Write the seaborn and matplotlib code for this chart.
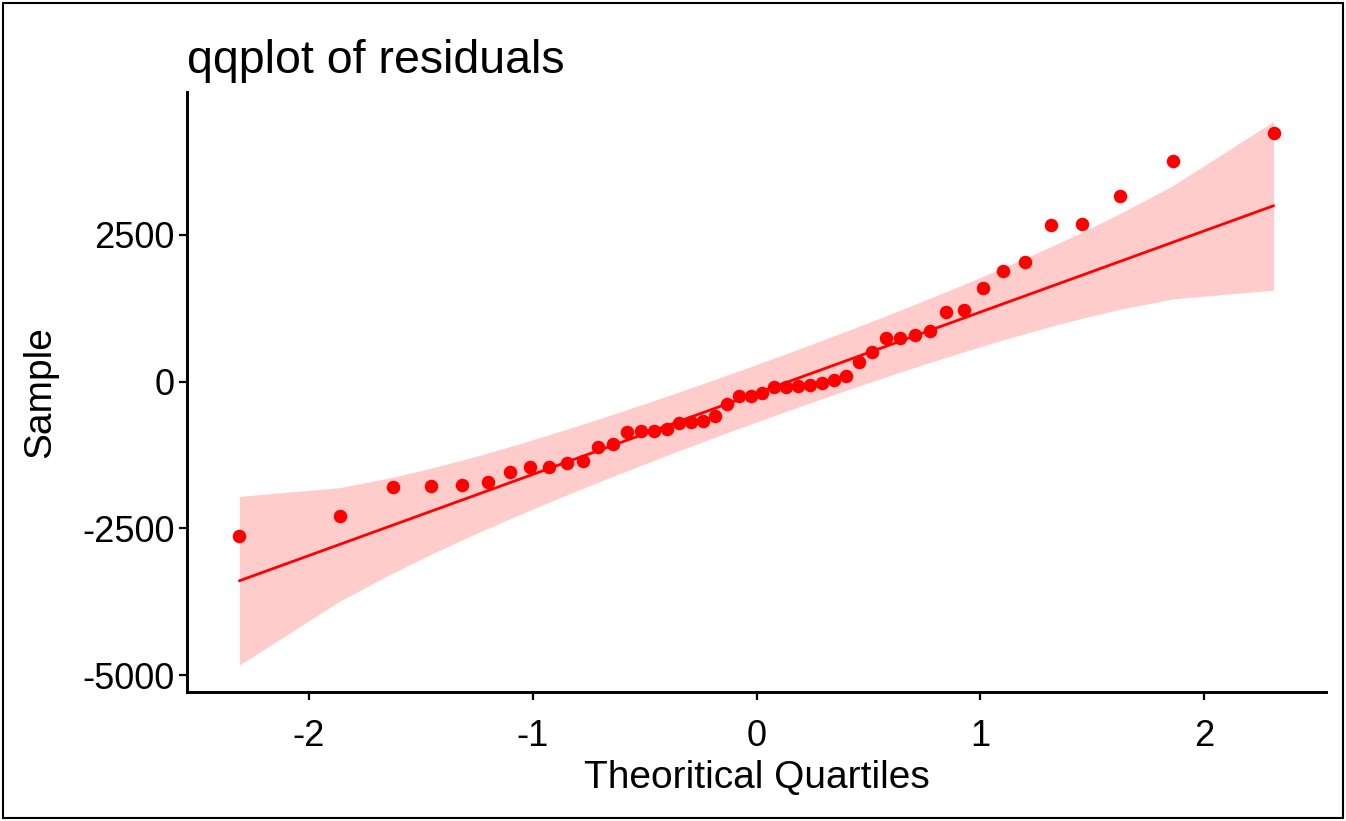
import math
import numpy as np
import pandas as pd
import matplotlib
matplotlib.use("Agg")
import matplotlib.pyplot as plt
import seaborn as sns
from matplotlib.patches import Rectangle

# ---- data ----
theoretical = [-2.311, -1.862, -1.625, -1.454, -1.318, -1.202, -1.101, -1.010,
               -0.926, -0.849, -0.776, -0.708, -0.642, -0.579, -0.518, -0.459,
               -0.402, -0.346, -0.291, -0.237, -0.184, -0.131, -0.078, -0.026,
               0.026, 0.078, 0.131, 0.184, 0.237, 0.291, 0.346, 0.402,
               0.459, 0.518, 0.579, 0.642, 0.708, 0.776, 0.849, 0.926,
               1.010, 1.101, 1.202, 1.318, 1.454, 1.625, 1.862, 2.311]
sample = [-2629, -2289, -1790, -1766, -1770, -1705, -1535, -1460,
          -1455, -1387, -1353, -1115, -1069, -854, -842, -840,
          -808, -701, -684, -672, -582, -383, -247, -250,
          -201, -99, -88, -77, -60, -20, 26, 99,
          337, 507, 735, 740, 791, 868, 1183, 1217,
          1596, 1881, 2042, 2660, 2689, 3162, 3752, 4224]
line_intercept = -200
line_slope = 1381
x_ticks = [-2, -1, 0, 1, 2]
y_ticks = [-5000, -2500, 0, 2500]

title = "qqplot of residuals"
x_label = "Theoritical Quartiles"
y_label = "Sample"

# ---- derived (reference line and pointwise normal 95% band) ----
df = pd.DataFrame({"theoretical": theoretical, "sample": sorted(sample)})
n = len(df)
z = df["theoretical"].to_numpy()
p = np.array([0.5 * (1 + math.erf(v / math.sqrt(2))) for v in z])
dens = np.exp(-z ** 2 / 2) / math.sqrt(2 * math.pi)
df["fit"] = line_intercept + line_slope * z
se = line_slope / dens * np.sqrt(p * (1 - p) / n)
df["lower"] = df["fit"] - 1.959964 * se
df["upper"] = df["fit"] + 1.959964 * se

# ---- style ----
sns.set_theme(style="white")
plt.rcParams["font.family"] = ["Liberation Sans", "DejaVu Sans"]
plt.rcParams["axes.unicode_minus"] = False

W, H = 1346, 821
fig = plt.figure(figsize=(W / 100, H / 100), dpi=100)
fig.patch.set_facecolor("white")
ax_l, ax_r, ax_t, ax_b = 187, 1326, 92, 692
ax = fig.add_axes([ax_l / W, 1 - ax_b / H, (ax_r - ax_l) / W, (ax_b - ax_t) / H])

ax.fill_between(df["theoretical"], df["lower"], df["upper"],
                color="#FF0000", alpha=0.2, linewidth=0, zorder=1)
sns.lineplot(data=df, x="theoretical", y="fit", color="#FF0000",
             linewidth=2.0, ax=ax, zorder=2)
sns.scatterplot(data=df, x="theoretical", y="sample", color="#FF0000",
                s=95, linewidth=0, ax=ax, zorder=3)

ax.set_xlim(-2.545, 2.545)
ax.set_ylim(-5284, 4927)
ax.set_xticks(x_ticks)
ax.set_yticks(y_ticks)
ax.set_xticklabels([str(v) for v in x_ticks])
ax.set_yticklabels([str(v) for v in y_ticks])

for side in ["top", "right"]:
    ax.spines[side].set_visible(False)
for side in ["left", "bottom"]:
    ax.spines[side].set_color("black")
    ax.spines[side].set_linewidth(2.1)

ax.tick_params(axis="both", which="major", direction="out", length=5.5,
               width=1.6, color="black", labelsize=26, labelcolor="black",
               left=True, bottom=True)
ax.tick_params(axis="y", pad=3.5)
ax.tick_params(axis="x", pad=14)

ax.set_xlabel(x_label, fontsize=28, color="black")
ax.set_ylabel(y_label, fontsize=28, color="black")
ax.xaxis.set_label_coords(0.5, -0.113)
ax.xaxis.label.set_va("top")
ax.yaxis.set_label_coords((58 - ax_l) / (ax_r - ax_l), 0.5)

fig.text(ax_l / W, 1 - 73 / H, title, fontsize=33.5, ha="left",
         va="baseline", color="black")

fig.patches.append(Rectangle((3 / W, 3 / H), (W - 6) / W, (H - 6) / H,
                             transform=fig.transFigure, fill=False,
                             edgecolor="black", linewidth=1.5))

fig.savefig("out.png", dpi=100)
